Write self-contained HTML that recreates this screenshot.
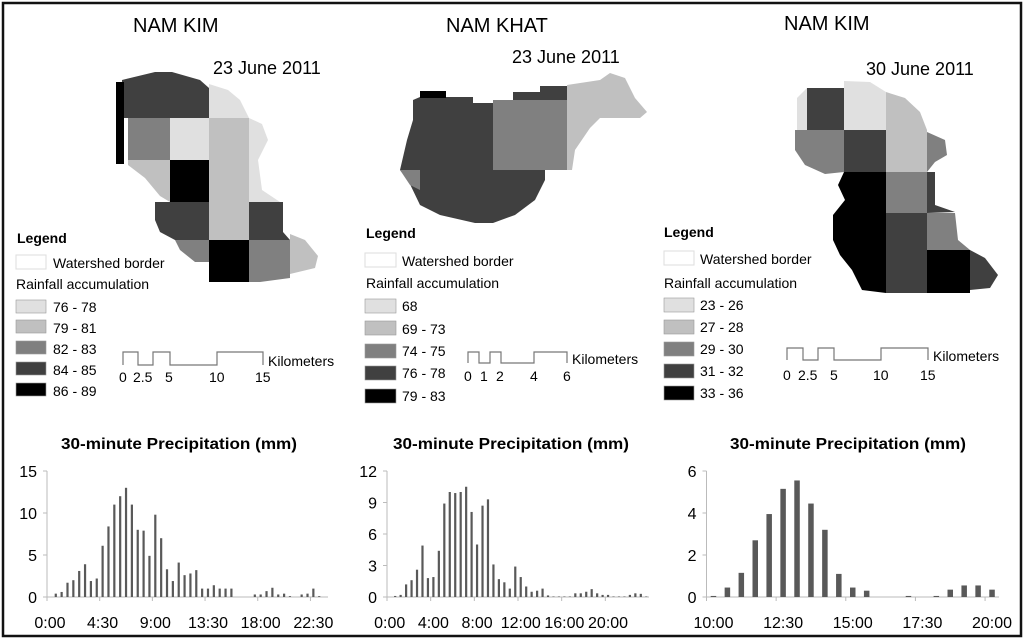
<!DOCTYPE html>
<html><head><meta charset="utf-8">
<style>
body{margin:0;background:#fff;}
svg{display:block;font-family:"Liberation Sans",sans-serif;}
.cal{font-family:"Liberation Sans","DejaVu Sans",sans-serif;}
</style></head>
<body>
<svg id="fig" width="1024" height="639" viewBox="0 0 1024 639">
<rect x="3" y="3" width="1018" height="633" fill="#fff" stroke="#111" stroke-width="2.5"/>

<!-- MAP 1 -->
<g>
<text x="133" y="32" font-size="20">NAM KIM</text>
<text x="213" y="74" font-size="18">23 June 2011</text>
<g stroke="none">
<path d="M122 80 L155 72 L172 72 L200 80 L209 88 L209 118 L128 118 L122 118 Z" fill="#404040"/>
<rect x="116" y="82" width="8" height="82" fill="#000"/>
<path d="M209 84 L228 90 L240 100 L249 118 L209 118Z" fill="#e0e0e0"/>
<rect x="128" y="118" width="42" height="42" fill="#808080"/>
<rect x="170" y="118" width="39" height="42" fill="#e0e0e0"/>
<rect x="209" y="118" width="40" height="122" fill="#c0c0c0"/>
<path d="M249 118 L262 124 L268 140 L258 160 L262 190 L280 202 L249 202Z" fill="#e0e0e0"/>
<path d="M128 160 L170 160 L170 202 L160 196 L145 178 L128 165Z" fill="#c0c0c0"/>
<rect x="170" y="160" width="39" height="42" fill="#000"/>
<path d="M155 202 L209 202 L209 240 L175 240 L160 232 L155 220Z" fill="#404040"/>
<path d="M249 202 L283 202 L283 232 L290 240 L249 240Z" fill="#404040"/>
<path d="M175 240 L209 240 L209 262 L195 262 L180 250Z" fill="#808080"/>
<rect x="209" y="240" width="40" height="42" fill="#000"/>
<path d="M249 240 L290 240 L290 278 L260 282 L249 282Z" fill="#808080"/>
<path d="M290 234 L305 240 L318 256 L315 268 L290 274Z" fill="#c0c0c0"/>
</g>
<text x="17" y="243" font-size="14" font-weight="bold">Legend</text>
<rect x="16" y="255" width="30" height="14" fill="#fff" stroke="#ddd"/>
<text x="53" y="268" font-size="14">Watershed border</text>
<text x="16" y="289" font-size="14">Rainfall accumulation</text>
<g font-size="14" stroke="#999" stroke-width="0.6">
<rect x="16" y="300" width="30" height="13" fill="#e0e0e0"/><text x="53" y="312" stroke="none">76 - 78</text>
<rect x="16" y="320" width="30" height="13" fill="#c0c0c0"/><text x="53" y="333" stroke="none">79 - 81</text>
<rect x="16" y="341" width="30" height="13" fill="#808080"/><text x="53" y="354" stroke="none">82 - 83</text>
<rect x="16" y="362" width="30" height="13" fill="#404040"/><text x="53" y="375" stroke="none">84 - 85</text>
<rect x="16" y="383" width="30" height="13" fill="#000"/><text x="53" y="396" stroke="none">86 - 89</text>
</g>
<path d="M123 365 V352 H138 V365 H153 V352 H170 V365 H217 V352 H263 V365" fill="none" stroke="#777" stroke-width="1.2"/>
<g font-size="14"><text x="119" y="382">0</text><text x="133" y="382">2.5</text><text x="165" y="382">5</text><text x="209" y="382">10</text><text x="255" y="382">15</text><text x="268" y="366">Kilometers</text></g>
</g>

<!-- MAP 2 -->
<g>
<text x="446" y="32" font-size="20">NAM KHAT</text>
<text x="512" y="63" font-size="18">23 June 2011</text>
<g stroke="none">
<path d="M420 97 L473 97 L473 103 L493 103 L493 223 L475 223 L440 215 L420 205 L408 180 L400 170 L407 140 L413 120 L413 100Z" fill="#404040"/>
<rect x="420" y="91" width="26" height="7" fill="#000"/>
<path d="M513 92 L540 92 L540 86 L567 86 L567 100 L513 100Z" fill="#404040"/>
<rect x="493" y="100" width="74" height="70" fill="#808080"/>
<path d="M493 170 L545 170 L545 180 L535 200 L515 215 L493 223Z" fill="#404040"/>
<path d="M400 170 L420 170 L420 190 L410 185Z" fill="#808080"/>
<path d="M567 85 L600 80 L610 73 L625 78 L635 98 L647 112 L640 118 L600 118 L590 128 L575 150 L572 170 L567 170Z" fill="#c0c0c0"/>
</g>
<text x="366" y="238" font-size="14" font-weight="bold">Legend</text>
<rect x="365" y="253" width="31" height="14" fill="#fff" stroke="#ddd"/>
<text x="402" y="266" font-size="14">Watershed border</text>
<text x="366" y="288" font-size="14">Rainfall accumulation</text>
<g font-size="14" stroke="#999" stroke-width="0.6">
<rect x="365" y="299" width="31" height="14" fill="#e0e0e0"/><text x="402" y="311" stroke="none">68</text>
<rect x="365" y="321" width="31" height="14" fill="#c0c0c0"/><text x="402" y="334" stroke="none">69 - 73</text>
<rect x="365" y="344" width="31" height="14" fill="#808080"/><text x="402" y="356" stroke="none">74 - 75</text>
<rect x="365" y="366" width="31" height="14" fill="#404040"/><text x="402" y="378" stroke="none">76 - 78</text>
<rect x="365" y="389" width="31" height="14" fill="#000"/><text x="402" y="401" stroke="none">79 - 83</text>
</g>
<path d="M468 363 V352 H479 V363 H490 V352 H501 V363 H534 V352 H567 V363" fill="none" stroke="#777" stroke-width="1.2"/>
<g font-size="14"><text x="464" y="381">0</text><text x="480" y="381">1</text><text x="496" y="381">2</text><text x="530" y="381">4</text><text x="563" y="381">6</text><text x="572" y="364">Kilometers</text></g>
</g>

<!-- MAP 3 -->
<g>
<text x="784" y="30" font-size="20">NAM KIM</text>
<text x="866" y="75" font-size="18">30 June 2011</text>
<g stroke="none">
<path d="M807 88 L797 98 L797 130 L807 130Z" fill="#e0e0e0"/>
<rect x="807" y="88" width="37" height="42" fill="#404040"/>
<path d="M844 81 L870 82 L886 92 L886 130 L844 130Z" fill="#e0e0e0"/>
<path d="M886 92 L905 98 L920 112 L927 130 L927 172 L886 172Z" fill="#c0c0c0"/>
<path d="M795 130 L844 130 L844 172 L825 174 L805 165 L795 150Z" fill="#808080"/>
<rect x="844" y="130" width="42" height="42" fill="#404040"/>
<path d="M927 132 L945 140 L947 155 L935 162 L927 172Z" fill="#808080"/>
<path d="M844 172 L886 172 L886 293 L862 290 L852 270 L840 255 L833 240 L833 215 L845 200 L838 185Z" fill="#000"/>
<rect x="886" y="172" width="41" height="41" fill="#808080"/>
<path d="M927 172 L935 172 L935 205 L955 212 L927 213Z" fill="#404040"/>
<rect x="886" y="213" width="41" height="80" fill="#404040"/>
<path d="M927 213 L955 213 L958 240 L970 250 L927 250Z" fill="#808080"/>
<rect x="927" y="250" width="43" height="43" fill="#000"/>
<path d="M970 250 L985 258 L998 275 L990 288 L970 290Z" fill="#404040"/>
</g>
<text x="664" y="237" font-size="14" font-weight="bold">Legend</text>
<rect x="664" y="251" width="30" height="14" fill="#fff" stroke="#ddd"/>
<text x="700" y="264" font-size="14">Watershed border</text>
<text x="664" y="288" font-size="14">Rainfall accumulation</text>
<g font-size="14" stroke="#999" stroke-width="0.6">
<rect x="664" y="298" width="30" height="14" fill="#e0e0e0"/><text x="700" y="310" stroke="none">23 - 26</text>
<rect x="664" y="320" width="30" height="14" fill="#c0c0c0"/><text x="700" y="332" stroke="none">27 - 28</text>
<rect x="664" y="342" width="30" height="14" fill="#808080"/><text x="700" y="354" stroke="none">29 - 30</text>
<rect x="664" y="364" width="30" height="14" fill="#404040"/><text x="700" y="376" stroke="none">31 - 32</text>
<rect x="664" y="386" width="30" height="14" fill="#000"/><text x="700" y="398" stroke="none">33 - 36</text>
</g>
<path d="M787 360 V348 H803 V360 H818 V348 H834 V360 H881 V348 H928 V360" fill="none" stroke="#777" stroke-width="1.2"/>
<g font-size="14"><text x="783" y="380">0</text><text x="798" y="380">2.5</text><text x="830" y="380">5</text><text x="873" y="380">10</text><text x="920" y="380">15</text><text x="933" y="361">Kilometers</text></g>
</g>

<g id="charts"></g>
</svg>
<script>
// Chart 1 data (Nam Kim, 23 June) 30-min slots from 0:00
const c1Values = [0,0.4,0.6,1.7,2.0,3.1,3.9,1.9,2.2,6.1,8.4,11,12,13,11,8,7.9,4.9,9.8,7,3.3,1.9,4.1,2.6,2.8,3.2,1,1,1.4,1,1,1,0,0,0,0.3,0.3,0.7,1.1,0.3,0.4,0.1,0,0.3,0.4,1.0,0.1,0];
const c1Ticks = [0,5,10,15];
const c1XLabels = ["0:00","4:30","9:00","13:30","18:00","22:30"];
const c1XLabelSlots = [0,9,18,27,36,45];
// Chart 2 data (Nam Khat, 23 June)
const c2Values = [0,0.1,0.2,1.2,1.6,2.6,4.9,1.8,1.9,4.4,8.9,10,9.9,10,10.5,8.1,5,8.7,9.3,3.1,1.7,1.4,0.8,2.9,1.9,1,0.5,0.6,0.8,0.15,0.05,0.05,0.05,0.05,0.35,0.35,0.5,0.75,0.35,0.2,0.2,0.05,0.05,0.05,0.2,0.35,0.3,0.05];
const c2Ticks = [0,3,6,9,12];
const c2XLabels = ["0:00","4:00","8:00","12:00","16:00","20:00"];
const c2XLabelSlots = [0,8,16,24,32,40];
// Chart 3 data (Nam Kim, 30 June) from 10:00
const c3Values = [0.05,0.45,1.15,2.7,3.95,5.15,5.55,4.45,3.2,1.1,0.45,0.3,0,0,0.05,0,0.05,0.35,0.55,0.55,0.35];
const c3Ticks = [0,2,4,6];
const c3XLabels = ["10:00","12:30","15:00","17:30","20:00"];
const c3XLabelSlots = [0,5,10,15,20];

const NS = "http://www.w3.org/2000/svg";
const root = document.getElementById("charts");
function mk(tag, attrs, parent){const e=document.createElementNS(NS,tag);for(const k in attrs)e.setAttribute(k,attrs[k]);(parent||root).appendChild(e);return e;}

function drawChart(id, cfg, values, ticks, xLabels, xSlots){
  const g = mk("g",{});
  
  
  const n = values.length, slot=(cfg.x1-cfg.x0)/n, max=ticks[ticks.length-1];
  const xs = i => cfg.x0 + slot*(i+0.5);
  const ys = v => cfg.yb - (cfg.yb-cfg.yt)*v/max;
  const t = mk("text",{x:cfg.tx,y:449,"font-size":16,"font-weight":"bold","class":"cal",textLength:236,lengthAdjust:"spacingAndGlyphs"},g);
  t.textContent="30-minute Precipitation (mm)";
  
  
  const ya = mk("line",{x1:cfg.x0,x2:cfg.x0,y1:cfg.yt,y2:cfg.yb,stroke:"#bbb","stroke-width":1},g);
  
  
  const xa = mk("line",{x1:cfg.x0,x2:cfg.x1,y1:cfg.yb,y2:cfg.yb,stroke:"#bbb","stroke-width":1},g);
  
  
  ticks.forEach(v=>{
    mk("line",{x1:cfg.x0-4,x2:cfg.x0,y1:ys(v),y2:ys(v),stroke:"#bbb"},g);
    const l = mk("text",{x:cfg.x0-10,y:ys(v)+6,"font-size":16,"text-anchor":"end","class":"cal"},g);
    l.textContent=v;
    
    
  });
  values.forEach((v,i)=>{
    const b = mk("rect",{x:xs(i)-cfg.bw/2,y:ys(v),width:cfg.bw,height:cfg.yb-ys(v),fill:"#595959"},g);
    
    
  });
  xLabels.forEach((s,k)=>{
    const x = xs(xSlots[k]);
    mk("line",{x1:x-slot/2,x2:x-slot/2,y1:cfg.yb,y2:cfg.yb+4,stroke:"#bbb"},g);
    const l = mk("text",{x:x,y:628,"font-size":16,"text-anchor":"middle","class":"cal"},g);
    l.textContent=s;
    
    
  });
}
drawChart("chart-nam-kim-23-june",{x0:47,x1:328,yt:471,yb:597,bw:2.2,tx:61},c1Values,c1Ticks,c1XLabels,c1XLabelSlots);
drawChart("chart-nam-khat-23-june",{x0:387,x1:649,yt:471,yb:597,bw:2.2,tx:393},c2Values,c2Ticks,c2XLabels,c2XLabelSlots);
drawChart("chart-nam-kim-30-june",{x0:706.5,x1:999,yt:471,yb:597,bw:5.5,tx:730},c3Values,c3Ticks,c3XLabels,c3XLabelSlots);
</script>
</body></html>
